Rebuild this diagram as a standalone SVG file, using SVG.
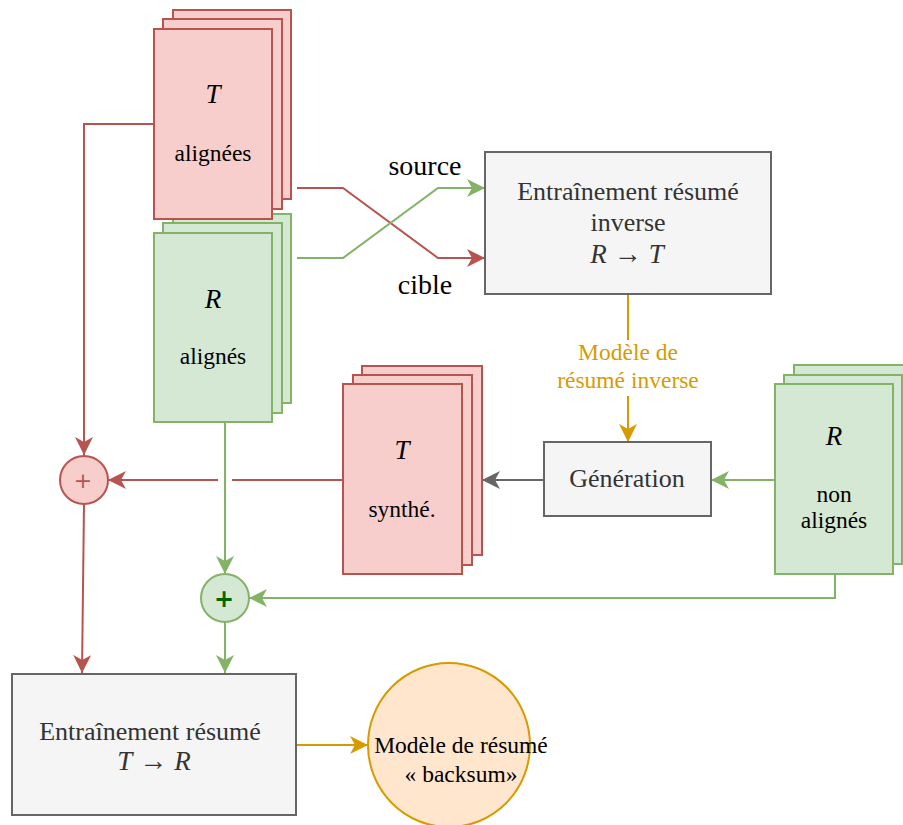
<svg xmlns="http://www.w3.org/2000/svg" width="903" height="825" viewBox="0 0 903 825">
<style>
.red{fill:#f8cecc;stroke:#b85450;stroke-width:2}
.green{fill:#d5e8d4;stroke:#82b366;stroke-width:2}
.gray{fill:#f5f5f5;stroke:#666666;stroke-width:2}
.orange{fill:#ffe6cc;stroke:#d79b00;stroke-width:2}
text{font-family:"Liberation Serif","Times New Roman",serif;text-anchor:middle}
.nt{font-size:23.5px;fill:#000}
.bt{font-size:26px;fill:#333333}
.m{font-style:italic;font-size:27px}
.el{font-size:28px;fill:#000}
.ol{font-size:23.5px;fill:#d79b00}
.cr{fill:none;stroke:#b85450;stroke-width:2}
.cg{fill:none;stroke:#82b366;stroke-width:2}
.cy{fill:none;stroke:#666666;stroke-width:2}
.co{fill:none;stroke:#d79b00;stroke-width:2}
</style>
<defs>
<marker id="ar" markerUnits="userSpaceOnUse" markerWidth="20" markerHeight="20" refX="18" refY="9" orient="auto"><path d="M0,0 L18,9 L0,18 L5,9 Z" fill="#b85450"/></marker>
<marker id="ag" markerUnits="userSpaceOnUse" markerWidth="20" markerHeight="20" refX="18" refY="9" orient="auto"><path d="M0,0 L18,9 L0,18 L5,9 Z" fill="#82b366"/></marker>
<marker id="ay" markerUnits="userSpaceOnUse" markerWidth="20" markerHeight="20" refX="18" refY="9" orient="auto"><path d="M0,0 L18,9 L0,18 L5,9 Z" fill="#666666"/></marker>
<marker id="ao" markerUnits="userSpaceOnUse" markerWidth="20" markerHeight="20" refX="18" refY="9" orient="auto"><path d="M0,0 L18,9 L0,18 L5,9 Z" fill="#d79b00"/></marker>
</defs>

<g id="connectors">
<path class="cr" d="M154,124 H84 V455" marker-end="url(#ar)"/>
<path class="cr" d="M297,188 H343 L438,258 H485" marker-end="url(#ar)"/>
<path class="cg" d="M297,258 H343 L438,188 H485" marker-end="url(#ag)"/>
<path class="co" d="M628,294 V340"/>
<path class="co" d="M628,396 V442" marker-end="url(#ao)"/>
<path class="cy" d="M544,480 H482" marker-end="url(#ay)"/>
<path class="cg" d="M775,480 H711" marker-end="url(#ag)"/>
<path class="cg" d="M835,574 V598 H249" marker-end="url(#ag)"/>
<path class="cg" d="M225,422 V574" marker-end="url(#ag)"/>
<path class="cr" d="M343,480 H232"/>
<path class="cr" d="M218,480 H108" marker-end="url(#ar)"/>
<path class="cr" d="M84,504 L82,673" marker-end="url(#ar)"/>
<path class="cg" d="M225,622 V673" marker-end="url(#ag)"/>
<path class="co" d="M296,745 H368" marker-end="url(#ao)"/>
<text class="el" x="425" y="175">source</text>
<text class="el" x="425" y="294">cible</text>
<text class="ol" x="628" y="360">Modèle de</text>
<text class="ol" x="628" y="388">résumé inverse</text>
</g>

<g id="r-alignes">
<rect class="green" x="173" y="214" width="118" height="189"/>
<rect class="green" x="163" y="223" width="119" height="190"/>
<rect class="green" x="154" y="233" width="118" height="189"/>
<text class="nt m" x="213" y="308">R</text>
<text class="nt" x="213" y="364">alignés</text>
</g>

<g id="t-alignees">
<rect class="red" x="173" y="10" width="118" height="189"/>
<rect class="red" x="163" y="19" width="119" height="190"/>
<rect class="red" x="154" y="29" width="118" height="190"/>
<text class="nt m" x="213" y="103">T</text>
<text class="nt" x="213" y="161">alignées</text>
</g>

<g id="entrainement-inverse">
<rect class="gray" x="485" y="152" width="286" height="142"/>
<text class="bt" x="628" y="200">Entraînement résumé</text>
<text class="bt" x="628" y="231">inverse</text>
<text class="bt" x="627" y="263"><tspan class="m">R</tspan><tspan font-size="28"> → </tspan><tspan class="m">T</tspan></text>
</g>

<g id="t-synthe">
<rect class="red" x="362" y="366" width="120" height="189"/>
<rect class="red" x="353" y="375" width="119" height="190"/>
<rect class="red" x="343" y="384" width="119" height="190"/>
<text class="nt m" x="402" y="459">T</text>
<text class="nt" x="402" y="517">synthé.</text>
</g>

<g id="generation">
<rect class="gray" x="544" y="442" width="167" height="74"/>
<text class="bt" x="627" y="487">Génération</text>
</g>

<g id="r-non-alignes">
<rect class="green" x="794" y="365" width="118" height="189"/>
<rect class="green" x="784" y="375" width="118" height="189"/>
<rect class="green" x="775" y="384" width="118" height="190"/>
<text class="nt m" x="834" y="445">R</text>
<text class="nt" x="834" y="502">non</text>
<text class="nt" x="834" y="528">alignés</text>
</g>

<g id="plus-red">
<circle cx="84" cy="480" r="24" fill="#f8cecc" stroke="#b85450" stroke-width="2"/>
<text x="83" y="488" style="font-family:'DejaVu Sans',sans-serif;font-size:22px;fill:#b85450">+</text>
</g>

<g id="plus-green">
<circle cx="225" cy="598" r="24" fill="#d5e8d4" stroke="#82b366" stroke-width="2"/>
<text x="224" y="607" style="font-family:'DejaVu Sans',sans-serif;font-size:24px;font-weight:bold;fill:#006600">+</text>
</g>

<g id="entrainement">
<rect class="gray" x="12" y="674" width="284" height="141"/>
<text class="bt" x="150" y="740">Entraînement résumé</text>
<text class="bt" x="154" y="770"><tspan class="m">T</tspan><tspan font-size="28"> → </tspan><tspan class="m">R</tspan></text>
</g>

<g id="backsum">
<ellipse class="orange" cx="449" cy="745" rx="81" ry="82"/>
<text class="nt" x="461" y="753">Modèle de résumé</text>
<text class="nt" x="461" y="782">« backsum»</text>
</g>
</svg>
